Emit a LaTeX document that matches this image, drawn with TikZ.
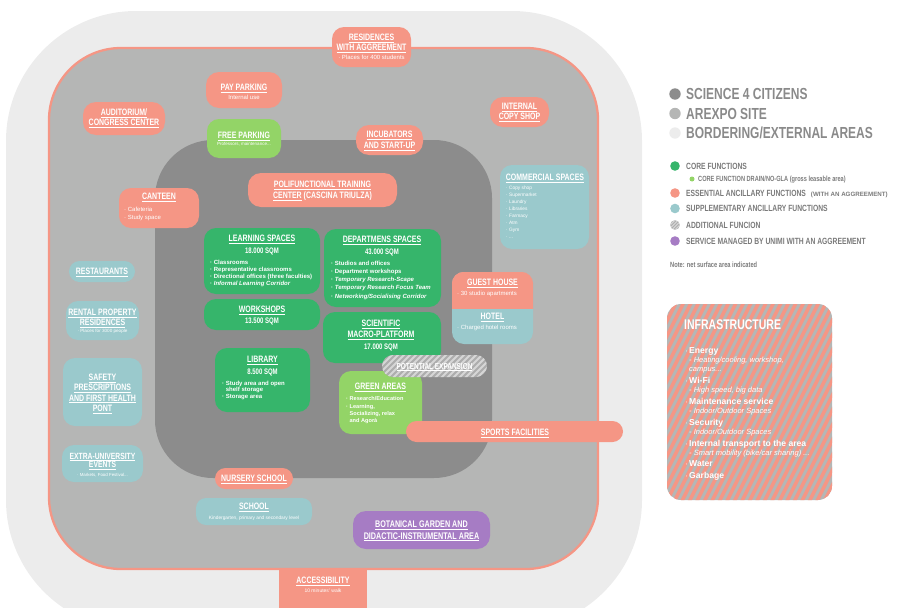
\documentclass[tikz,border=0pt]{standalone}
\usepackage{fontspec}
\setmainfont{Liberation Sans}
\newfontfamily\cnd[FakeStretch=0.75]{Liberation Sans}
\usetikzlibrary{fit}
\definecolor{salm}{HTML}{F59685}
\definecolor{core}{HTML}{36B56B}
\definecolor{lgreen}{HTML}{93D467}
\definecolor{supp}{HTML}{9AC9CC}
\definecolor{purp}{HTML}{A67CC4}
\definecolor{dgray}{HTML}{8C8C8C}
\definecolor{mgray}{HTML}{B5B6B5}
\definecolor{lgray}{HTML}{ECECEC}
\definecolor{hgray}{HTML}{ADADAD}
\definecolor{hstripe}{HTML}{D6D6D6}
\definecolor{legtxt}{HTML}{8A8A8A}
\definecolor{legtxtb}{HTML}{7A7A7A}
\newcommand\uln[1]{\underline{#1}}
\tikzset{
  box/.style={rounded corners=12pt, inner sep=0pt, draw=none},
  ttl/.style={font=\cnd\bfseries\fontsize{9.3}{10.3}\selectfont, text=white, align=center, inner sep=0pt, anchor=base},
  sqm/.style={font=\cnd\bfseries\fontsize{8}{9}\selectfont, text=white, inner sep=0pt, anchor=base},
  bls/.style={font=\bfseries\fontsize{6}{7.3}\selectfont, text=white, align=left, inner sep=0pt, anchor=base west},
  sm/.style={font=\fontsize{#1}{7}\selectfont, text=white, align=center, inner sep=0pt, anchor=base},
  smL/.style={font=\fontsize{#1}{7}\selectfont, text=white, align=left, inner sep=0pt, anchor=base west},
  leg/.style={font=\cnd\bfseries\fontsize{16}{16}\selectfont, text=legtxt, inner sep=0pt, anchor=base west},
  legs/.style={font=\cnd\bfseries\fontsize{9}{9}\selectfont, text=legtxtb, inner sep=0pt, anchor=base west},
  ldot/.style={circle, inner sep=0pt, minimum size=#1, draw=none},
}
\begin{document}
\begin{tikzpicture}[x=1pt,y=-1pt]
\useasboundingbox (0,0) rectangle (900,608);
% areas
\fill[lgray, rounded corners=130] (6,11) rectangle (642,630);
\filldraw[fill=mgray, draw=salm, line width=2.3, rounded corners=72] (49,48) rectangle (598,569);
\fill[dgray, rounded corners=58] (155,140) rectangle (492,478);

% ---------- boxes ----------
\node[box, fill=salm, fit={(332,27) (411,67)}] (res) {};
\node[ttl] (res-t) at (371.5,50.8) {\uln{RESIDENCES}\\\uln{WITH AGGREEMENT}};
\node[sm=6] (res-s) at (371.5,59.5) {· Places for 400 students};

\node[box, rounded corners=13pt, fill=salm, fit={(206,72) (282,108)}] (pay) {};
\node[ttl] (pay-t) at (244,90.5) {\uln{PAY PARKING}};
\node[sm=6] (pay-s) at (244,99.5) {Internal use};

\node[box, rounded corners=13pt, fill=salm, fit={(83,102) (165,135)}] (aud) {};
\node[ttl] (aud-t) at (124,125.6) {\uln{AUDITORIUM/}\\\uln{CONGRESS CENTER}};

\node[box, fill=lgreen, fit={(207,119) (281,158)}] (free) {};
\node[ttl] (free-t) at (244,138.5) {\uln{FREE PARKING}};
\node[sm=4.5] (free-s) at (244,145.3) {Professors, maintenance...};

\node[box, rounded corners=13pt, fill=salm, fit={(356,125) (423,155)}] (inc) {};
\node[ttl, font=\cnd\bfseries\fontsize{9.3}{11}\selectfont] (inc-t) at (389.5,148.4) {\uln{INCUBATORS}\\\uln{AND START-UP}};

\node[box, rounded corners=13pt, fill=salm, fit={(248,173) (397,207)}] (poli) {};
\node[ttl, font=\cnd\bfseries\fontsize{9.3}{11}\selectfont] (poli-t) at (322.5,198.4) {\uln{POLIFUNCTIONAL TRAINING}\\\uln{CENTER} (CASCINA TRIULZA)};

\node[box, rounded corners=13pt, fill=salm, fit={(490,97) (549,127)}] (copy) {};
\node[ttl] (copy-t) at (519.5,119.6) {\uln{INTERNAL}\\\uln{COPY SHOP}};

\node[box, fill=supp, fit={(500,165) (589,249)}] (comm) {};
\node[ttl] (comm-t) at (545,180.5) {\uln{COMMERCIAL SPACES}};
\node[smL=4.8] (comm-b) at (506,238.5) {· Copy shop\\· Supermarket\\· Laundry\\· Libraries\\· Farmacy\\· Atm\\· Gym\\· ...};

\node[box, fill=salm, fit={(119,188) (199,228)}] (cant) {};
\node[ttl] (cant-t) at (159,199.5) {\uln{CANTEEN}};
\node[smL=6, font=\fontsize{6}{8}\selectfont] (cant-b) at (124,219) {· Cafeteria\\· Study space};

\node[box, fill=core, fit={(204,228) (320,294)}] (learn) {};
\node[ttl] (learn-t) at (262,241.5) {\uln{LEARNING SPACES}};
\node[sqm] (learn-q) at (262,253) {18.000 SQM};
\node[bls] (learn-b) at (210,285.9) {· Classrooms\\· Representative classrooms\\· Directional offices (three faculties)\\· \textit{Informal Learning Corridor}};

\node[box, fill=core, fit={(204,299) (320,330)}] (work) {};
\node[ttl] (work-t) at (262,312.5) {\uln{WORKSHOPS}};
\node[sqm] (work-q) at (262,323) {13.500 SQM};

\node[box, fill=core, fit={(324,229) (441,307)}] (dept) {};
\node[ttl] (dept-t) at (382,242.5) {\uln{DEPARTMENS SPACES}};
\node[sqm] (dept-q) at (382,254) {43.000 SQM};
\node[bls, font=\bfseries\fontsize{6}{8.25}\selectfont] (dept-b) at (331,298) {· Studios and offices\\· Department workshops\\· \textit{Temporary Research-Scape}\\· \textit{Temporary Research Focus Team}\\· \textit{Networking/Socialising Corridor}};

\node[box, fill=core, fit={(323,312) (441,363)}] (sci) {};
\node[ttl, font=\cnd\bfseries\fontsize{9.3}{11}\selectfont] (sci-t) at (381,337.5) {\uln{SCIENTIFIC}\\\uln{MACRO-PLATFORM}};
\node[sqm] (sci-q) at (381,349) {17.000 SQM};

\node[box, fill=supp, fit={(452,272) (533,344)}] (gh) {};
\begin{scope}
  \clip (452,272) rectangle (533,308);
  \fill[salm, rounded corners=12] (gh.north west) rectangle (gh.south east);
\end{scope}
\node[ttl] (gh-t) at (492.5,285.5) {\uln{GUEST HOUSE}};
\node[smL=6] (gh-s) at (457,295) {· 30 studio apartments};
\node[ttl] (ho-t) at (492.5,319.5) {\uln{HOTEL}};
\node[smL=6] (ho-s) at (457,329) {· Charged hotel rooms};

\node[box, rounded corners=10.5pt, fill=supp, fit={(69,261) (135,282)}] (rest) {};
\node[ttl] (rest-t) at (102,274.5) {\uln{RESTAURANTS}};

\node[box, fill=supp, fit={(66,301) (139,340)}] (rent) {};
\node[ttl] (rent-t) at (102.5,325.8) {\uln{RENTAL PROPERTY}\\\uln{RESIDENCES}};
\node[sm=4.6] (rent-s) at (102.5,332.5) {· Places for 3000 people};

\node[box, fill=core, fit={(215,348) (310,412)}] (lib) {};
\node[ttl] (lib-t) at (262.5,362.5) {\uln{LIBRARY}};
\node[sqm] (lib-q) at (262.5,374) {8.500 SQM};
\node[bls, font=\bfseries\fontsize{6}{6.6}\selectfont] (lib-b) at (222,398.8) {· Study area and open\\\phantom{· }shelf storage\\[0.6pt]· Storage area};

\node[box, fill=lgreen, fit={(339,371) (422,434)}] (green) {};
\node[ttl] (green-t) at (380.5,389.5) {\uln{GREEN AREAS}};
\node[bls, font=\bfseries\fontsize{5.6}{6.6}\selectfont] (green-b) at (346,422) {· Research/Education\\[2.2pt]· Learning,\\\phantom{· }Socializing, relax\\\phantom{· }and Agorà};

\node[box, rounded corners=11pt, fill=hgray, fit={(382,355) (487,377)}] (pot) {};
\begin{scope}
  \clip[rounded corners=11] (382,355) rectangle (487,377);
  \foreach \i in {0,6,...,150} \draw[hstripe, line width=2] (355+\i,380) -- ++(28,-28);
\end{scope}
\node[ttl, font=\cnd\bfseries\fontsize{8.6}{9}\selectfont] (pot-t) at (434.5,369) {\uln{POTENTIAL EXPANSION}};

\node[box, rounded corners=10.5pt, fill=salm, fit={(406,421) (623,442)}] (sport) {};
\node[ttl] (sport-t) at (515,435.5) {\uln{SPORTS FACILITIES}};

\node[box, fill=supp, fit={(63,358) (142,426)}] (safe) {};
\node[ttl] (safe-t) at (102.5,411.4) {\uln{SAFETY}\\\uln{PRESCRIPTIONS}\\\uln{AND FIRST HEALTH}\\\uln{PONT}};

\node[box, fill=supp, fit={(62,445) (143,482)}] (extra) {};
\node[ttl, font=\cnd\bfseries\fontsize{9}{8.8}\selectfont] (extra-t) at (102.5,467.8) {\uln{EXTRA-UNIVERSITY}\\\uln{EVENTS}};
\node[sm=4.4] (extra-s) at (102.5,476.3) {· Markets, Food Festival...};

\node[box, rounded corners=10.5pt, fill=salm, fit={(215,468) (293,489)}] (nurs) {};
\node[ttl] (nurs-t) at (254,481.5) {\uln{NURSERY SCHOOL}};

\node[box, rounded corners=10pt, fill=supp, fit={(196,498) (312,525)}] (school) {};
\node[ttl] (school-t) at (254,509.5) {\uln{SCHOOL}};
\node[sm=4.8] (school-s) at (254,519) {Kindergarten, primary and secondary level};

\node[box, rounded corners=13pt, fill=purp, fit={(353,511) (490,549)}] (bot) {};
\node[ttl, font=\cnd\bfseries\fontsize{9.6}{11.7}\selectfont] (bot-t) at (421.5,539.2) {\uln{BOTANICAL GARDEN AND}\\\uln{DIDACTIC-INSTRUMENTAL AREA}};

\node[box, rounded corners=0pt, fill=salm, fit={(279,570) (367,615)}] (acc) {};
\node[ttl] (acc-t) at (323,583.5) {\uln{ACCESSIBILITY}};
\node[sm=5] (acc-s) at (323,592.5) {10 minutes' walk};

% ---------- legend ----------
\node[ldot=11.4pt, fill=dgray] (lg1) at (675,94) {};
\node[leg] (lg1-t) at (686,99.6) {SCIENCE 4 CITIZENS};
\node[ldot=11.4pt, fill=mgray] (lg2) at (675,113.5) {};
\node[leg] (lg2-t) at (686,119.1) {AREXPO SITE};
\node[ldot=11.4pt, fill=lgray] (lg3) at (675,133) {};
\node[leg] (lg3-t) at (686,138.6) {BORDERING/EXTERNAL AREAS};

\node[ldot=9.6pt, fill=core] (lg4) at (675,166) {};
\node[legs] (lg4-t) at (686,169.2) {CORE FUNCTIONS};
\node[ldot=5pt, fill=lgreen] (lg5) at (692,179) {};
\node[legs, font=\cnd\bfseries\fontsize{7.5}{7.5}\selectfont] (lg5-t) at (698,181.6) {CORE FUNCTION DRAIN/NO-GLA (gross leasable area)};
\node[ldot=9.6pt, fill=salm] (lg6) at (675,193) {};
\node[legs] (lg6-t) at (686,196.2) {ESSENTIAL ANCILLARY FUNCTIONS\hspace{5pt}{\normalfont\bfseries\fontsize{6.2}{6.2}\selectfont (WITH AN AGGREEMENT)}};
\node[ldot=9.6pt, fill=supp] (lg7) at (675,208.5) {};
\node[legs] (lg7-t) at (686,211.7) {SUPPLEMENTARY ANCILLARY FUNCTIONS};
\node[ldot=9.6pt, fill=hgray] (lg8) at (675,225) {};
\begin{scope}
  \clip (675,225) circle (4.8);
  \foreach \i in {0,3.2,...,24} \draw[hstripe, line width=1.1] (660+\i,232) -- ++(14,-14);
\end{scope}
\node[legs] (lg8-t) at (686,228.2) {ADDITIONAL FUNCION};
\node[ldot=9.6pt, fill=purp] (lg9) at (675,241) {};
\node[legs] (lg9-t) at (686,244.2) {SERVICE MANAGED BY UNIMI WITH AN AGGREEMENT};
\node[legs, font=\cnd\bfseries\fontsize{7.6}{7.6}\selectfont, text=legtxtb] (note) at (670,267) {Note: net surface area indicated};

% ---------- infrastructure ----------
\node[box, rounded corners=14pt, fill=mgray, fit={(667,304) (832,500)}] (infra) {};
\begin{scope}
  \clip[rounded corners=14] (667,304) rectangle (832,500);
  \foreach \i in {0,7.5,...,300} \draw[salm, line width=3.4] (560+\i,505) -- ++(105,-210);
\end{scope}
\node[ttl, anchor=base west, font=\cnd\bfseries\fontsize{14}{14}\selectfont] (infra-t) at (684,329) {INFRASTRUCTURE};
\node[anchor=base west, inner sep=0pt, align=left, text=white, font=\fontsize{7.5}{9}\selectfont] (infra-b) at (689,478)
 {\llap{·\,}\textbf{\fontsize{8.6}{9}\selectfont Energy}\\
  \textit{- Heating/cooling, workshop,}\\
  \textit{campus...}\\[3pt]
  \llap{·\,}\textbf{\fontsize{8.6}{9}\selectfont Wi-Fi}\\
  \textit{- High speed, big data}\\[3pt]
  \llap{·\,}\textbf{\fontsize{8.6}{9}\selectfont Maintenance service}\\
  \textit{- Indoor/Outdoor Spaces}\\[3pt]
  \llap{·\,}\textbf{\fontsize{8.6}{9}\selectfont Security}\\
  \textit{- Indoor/Outdoor Spaces}\\[3pt]
  \llap{·\,}\textbf{\fontsize{8.6}{9}\selectfont Internal transport to the area}\\
  \textit{- Smart mobility (bike/car sharing) ...}\\[2pt]
  \llap{·\,}\textbf{\fontsize{8.6}{9}\selectfont Water}\\[3pt]
  \llap{·\,}\textbf{\fontsize{8.6}{9}\selectfont Garbage}};
\end{tikzpicture}
\end{document}
